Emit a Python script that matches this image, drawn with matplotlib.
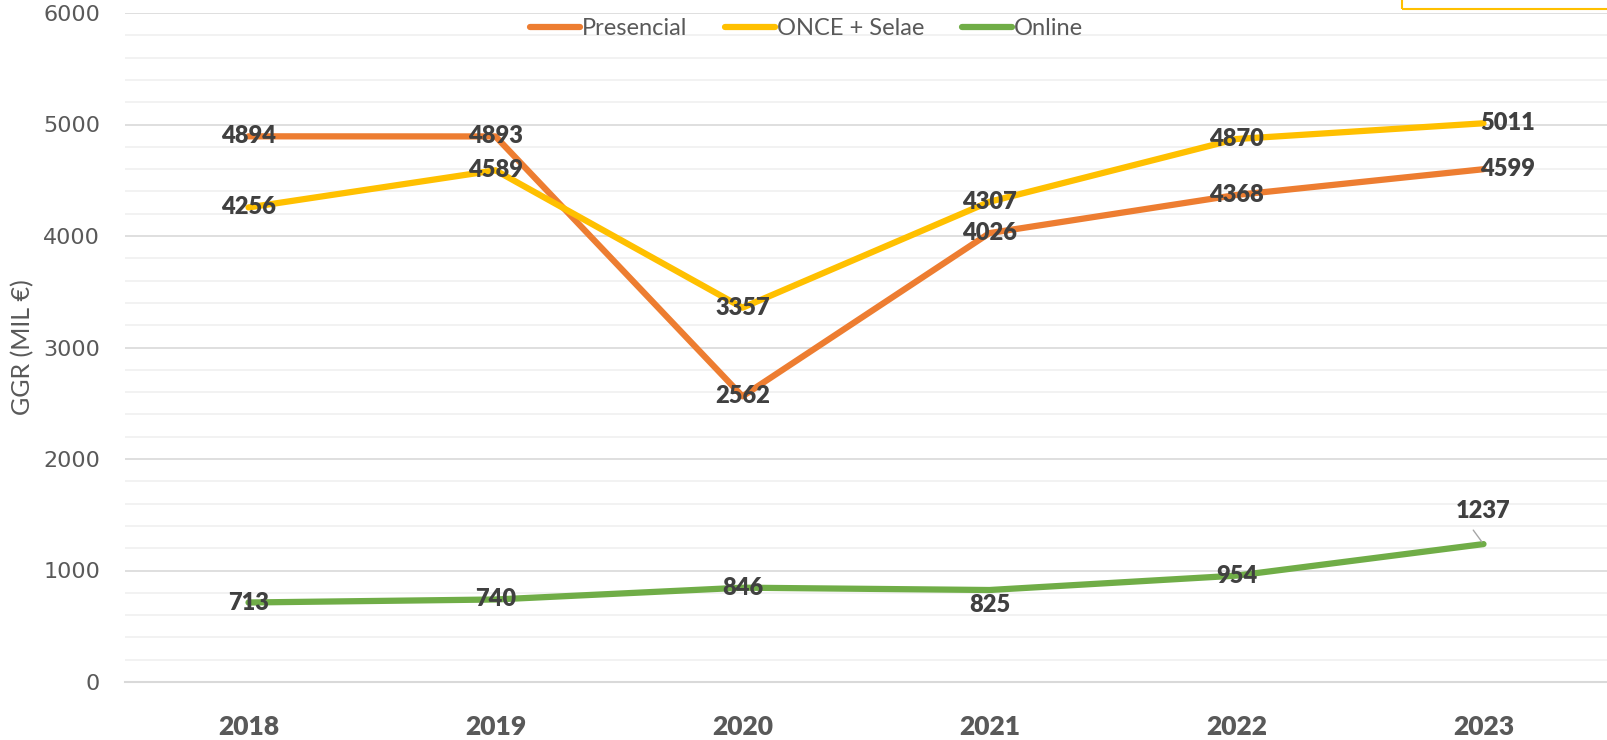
import matplotlib.pyplot as plt
from matplotlib.patches import Rectangle
from matplotlib.ticker import MultipleLocator

years = ['2018', '2019', '2020', '2021', '2022', '2023']
presencial = [4894, 4893, 2562, 4026, 4368, 4599]
once_selae = [4256, 4589, 3357, 4307, 4870, 5011]
online = [713, 740, 846, 825, 954, 1237]

series = [
    ('Presencial', presencial, '#ED7D31'),
    ('ONCE + Selae', once_selae, '#FFC000'),
    ('Online', online, '#70AD47'),
]

# label offsets in points (only where the label is not centred on the point)
label_offsets = {
    ('Presencial', 5): (17, 0),
    ('ONCE + Selae', 5): (17, 0),
    ('Online', 3): (0, -11),
    ('Online', 5): (0, 24),
}

plt.rcParams['font.family'] = ['Lato', 'DejaVu Sans']

fig = plt.figure(figsize=(16.07, 7.40), dpi=100)
ax = fig.add_axes([125 / 1607, 58 / 740, 1 - 125 / 1607, (682 - 13) / 740])

x = list(range(len(years)))
for i, (name, vals, color) in enumerate(series):
    ax.plot(x, vals, color=color, lw=4.5, solid_capstyle='round',
            solid_joinstyle='round', label=name, zorder=3 + i)
    for j, v in enumerate(vals):
        dx, dy = label_offsets.get((name, j), (0, 0))
        arrow = None
        if dy > 15:
            arrow = dict(arrowstyle='-', color='#a6a6a6', lw=1,
                         shrinkA=5, shrinkB=2, relpos=(0.2, 0))
        ax.annotate(str(v), (j, v), xytext=(dx, dy), textcoords='offset points',
                    ha='center', va='center', fontsize=17, fontweight='heavy',
                    color='#404040', zorder=10, arrowprops=arrow)

ax.set_xlim(-0.5, 5.5)
ax.set_ylim(0, 6000)
ax.set_xticks(x)
ax.set_xticklabels(years, fontsize=19, fontweight='heavy', color='#595959')
ax.yaxis.set_major_locator(MultipleLocator(1000))
ax.yaxis.set_minor_locator(MultipleLocator(200))
ax.tick_params(axis='y', which='both', length=0, labelsize=16,
               labelcolor='#595959', pad=18)
ax.tick_params(axis='x', length=0, pad=24)
for lab in ax.get_yticklabels():
    lab.set_family('DejaVu Sans')
ax.grid(which='major', axis='y', color='#d9d9d9', lw=1.2, zorder=0)
ax.grid(which='minor', axis='y', color='#f0f0f0', lw=1.2, zorder=0)
for s in ['top', 'right', 'left']:
    ax.spines[s].set_visible(False)
ax.spines['bottom'].set_color('#d9d9d9')
ax.spines['bottom'].set_linewidth(1.5)
ax.set_ylabel('GGR (MIL €)', fontsize=18, color='#595959', labelpad=6)

fig.legend(loc='center', bbox_to_anchor=(0.502, 0.961), ncol=3, frameon=False,
           fontsize=17, handlelength=2.1, handletextpad=0.1, columnspacing=1.6,
           labelcolor='#595959')

# yellow box cut off at the top right
fig.patches.append(Rectangle((1402 / 1607, 1 - 9 / 740), 0.2, 0.1,
                             transform=fig.transFigure, fill=False,
                             edgecolor='#FFC000', lw=1.5))

fig.savefig('out.png', dpi=100)
